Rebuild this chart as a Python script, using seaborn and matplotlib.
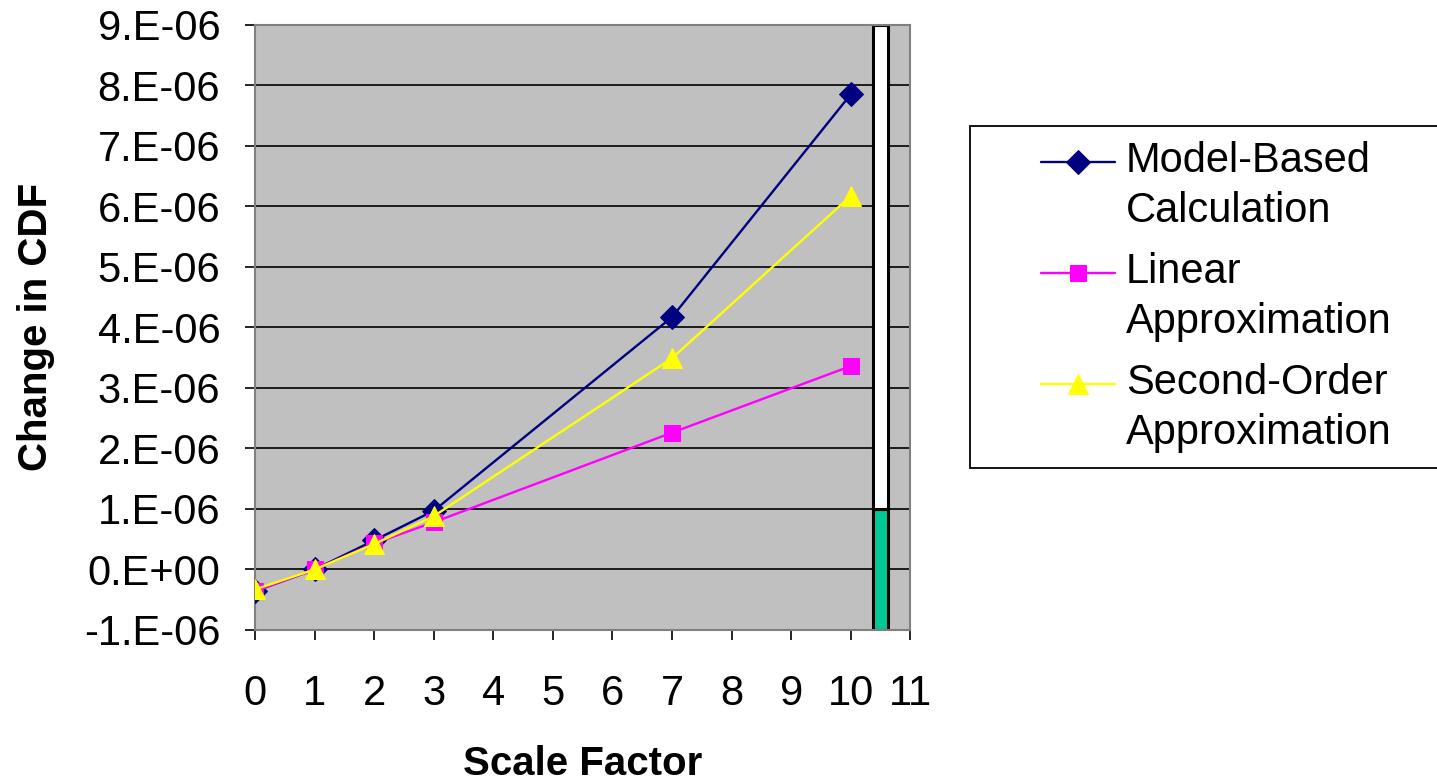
import numpy as np
import pandas as pd
import matplotlib
matplotlib.use("Agg")
import matplotlib.pyplot as plt
import seaborn as sns
from matplotlib.lines import Line2D
from matplotlib.patches import Rectangle
from matplotlib.ticker import FixedLocator, FuncFormatter

# values
scale = [0, 1, 2, 3, 7, 10]
model_based = [-0.36e-6, 0.0, 0.48e-6, 0.97e-6, 4.17e-6, 7.85e-6]
linear = [-0.36e-6, 0.0, 0.43e-6, 0.78e-6, 2.26e-6, 3.36e-6]
second_order = [-0.33e-6, 0.0, 0.42e-6, 0.88e-6, 3.49e-6, 6.17e-6]

# the stacked column at the right edge of the plot
bar_x = [10.5]
bar_low = [2e-6]   # -1e-6 .. 1e-6 (green)
bar_high = [8e-6]  # 1e-6 .. 9e-6 (white)

series = [
    ("Model-Based\nCalculation", model_based, "#000080", "D", 12),
    ("Linear\nApproximation", linear, "#FF00FF", "s", 11),
    ("Second-Order\nApproximation", second_order, "#FFFF00", "^", 14),
]

sns.set_theme(style="white")
plt.rcParams["font.family"] = ["Liberation Sans", "DejaVu Sans"]
plt.rcParams["text.color"] = "black"
plt.rcParams["axes.labelcolor"] = "black"
plt.rcParams["xtick.color"] = "black"
plt.rcParams["ytick.color"] = "black"

fig = plt.figure(figsize=(14.37, 7.82), dpi=100)
ax = fig.add_axes([0.1775, 0.1944, 0.456, 0.774])
ax.set_facecolor("#C0C0C0")

for y in np.arange(-1e-6, 9.5e-6, 1e-6):
    ax.axhline(y, color="black", lw=1.2, zorder=0)

ax.bar(bar_x, bar_low, bottom=-1e-6, width=0.24, color="#00C896",
       edgecolor="black", linewidth=2.2, zorder=1)
ax.bar(bar_x, bar_high, bottom=1e-6, width=0.24, color="white",
       edgecolor="black", linewidth=2.2, zorder=1)

for name, vals, col, mk, ms in series:
    df = pd.DataFrame({"x": scale, "y": vals})
    sns.lineplot(data=df, x="x", y="y", ax=ax, color=col, marker=mk,
                 markersize=ms, markeredgecolor=col, linewidth=1.7,
                 label=name, zorder=3)

ax.set_xlim(0, 11)
ax.set_ylim(-1e-6, 9e-6)
ax.xaxis.set_major_locator(FixedLocator(range(0, 12)))
ax.yaxis.set_major_locator(FixedLocator(np.arange(-1e-6, 9.5e-6, 1e-6)))


def fmt(v, pos):
    n = int(round(v * 1e6))
    if n == 0:
        return "0.E+00"
    return f"{n}.E-06"


ax.yaxis.set_major_formatter(FuncFormatter(fmt))
ax.tick_params(axis="both", direction="out", length=7, width=1.2,
               color="black", labelsize=30, bottom=True, left=True)
ax.tick_params(axis="x", pad=25)
ax.tick_params(axis="y", pad=18)

for s in ax.spines.values():
    s.set_color("#808080")
    s.set_linewidth(1.5)

ax.set_xlabel("Scale Factor", fontsize=29, fontweight="bold")
ax.set_ylabel("Change in CDF", fontsize=29, fontweight="bold")
ax.xaxis.set_label_coords(0.5, -0.19)
ax.yaxis.set_label_coords(-0.305, 0.5)

# legend box, clipped by the right edge of the figure like the original
fig.patches.append(Rectangle((0.675, 0.4015), 0.4, 0.437,
                             transform=fig.transFigure, facecolor="white",
                             edgecolor="black", linewidth=1.3, zorder=-1))

leg = ax.legend(loc="upper left", bbox_to_anchor=(0.7245, 0.82),
                bbox_transform=fig.transFigure, fontsize=30, frameon=False,
                borderpad=0, handlelength=1.78, handletextpad=0.26,
                labelspacing=0.5, borderaxespad=0)
for t in leg.get_texts():
    t.set_linespacing(1.33)
# Excel puts the legend key level with the first line of a wrapped label
for ln in leg.findobj(Line2D):
    ln.set_ydata(np.asarray(ln.get_ydata(), dtype=float) + 18)

fig.savefig("out.png", dpi=100)
